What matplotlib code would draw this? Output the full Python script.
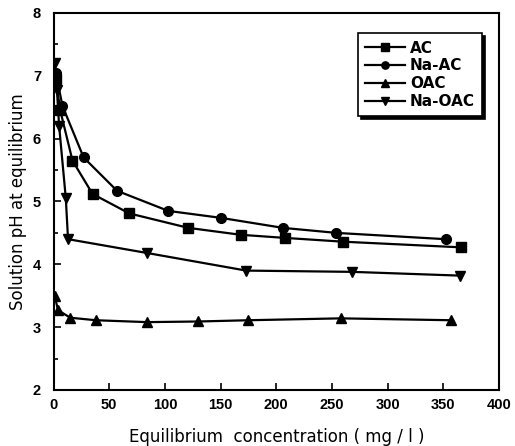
import matplotlib
matplotlib.use("Agg")
import matplotlib.pyplot as plt
from matplotlib.ticker import MultipleLocator

plt.rcParams['font.family'] = ['Liberation Sans', 'DejaVu Sans']

# Data
ac_x = [2, 6, 17, 35, 68, 121, 168, 208, 260, 366]
ac_y = [6.95, 6.45, 5.65, 5.12, 4.81, 4.58, 4.47, 4.42, 4.36, 4.27]

naac_x = [2, 8, 27, 57, 103, 150, 206, 254, 352]
naac_y = [7.05, 6.52, 5.70, 5.17, 4.85, 4.74, 4.58, 4.50, 4.40]

oac_x = [1, 4, 15, 38, 84, 130, 175, 258, 357]
oac_y = [3.50, 3.27, 3.15, 3.11, 3.08, 3.09, 3.11, 3.14, 3.11]

naoac_x = [1, 3, 5, 11, 13, 84, 173, 268, 365]
naoac_y = [7.2, 6.78, 6.2, 5.05, 4.40, 4.18, 3.90, 3.88, 3.82]

labels = ["AC", "Na-AC", "OAC", "Na-OAC"]
x_label = "Equilibrium  concentration ( mg / l )"
y_label = "Solution pH at equilibrium"

fig = plt.figure(figsize=(5.15, 4.46), dpi=100)
ax = fig.add_axes([0.104, 0.1256, 0.865, 0.8453])

series = [(ac_x, ac_y, 's'), (naac_x, naac_y, 'o'), (oac_x, oac_y, '^'), (naoac_x, naoac_y, 'v')]
for (xs, ys, m), lab in zip(series, labels):
    ax.plot(xs, ys, color='black', lw=1.6, marker=m, ms=7, mfc='black', mec='black', label=lab)

ax.set_xlim(0, 400)
ax.set_ylim(2, 8)
ax.xaxis.set_major_locator(MultipleLocator(50))
ax.yaxis.set_major_locator(MultipleLocator(1))
ax.yaxis.set_minor_locator(MultipleLocator(0.5))
ax.tick_params(axis='both', which='both', direction='in', top=False, right=False, width=1.2)
ax.tick_params(axis='both', which='major', length=5, labelsize=10.5)
ax.tick_params(axis='x', which='major', pad=6)
ax.tick_params(axis='y', which='major', pad=9)
ax.tick_params(axis='y', which='minor', length=3)
for t in ax.get_xticklabels() + ax.get_yticklabels():
    t.set_fontweight('bold')
for s in ax.spines.values():
    s.set_linewidth(1.5)

ax.set_xlabel(x_label, fontsize=12, family='DejaVu Sans', labelpad=11)
ax.set_ylabel(y_label, fontsize=12, family='DejaVu Sans', labelpad=4)

leg = ax.legend(loc='upper left', bbox_to_anchor=(0.683, 0.947), borderaxespad=0,
                frameon=True, fancybox=False, shadow={'color': 'black', 'alpha': 1},
                edgecolor='black', handlelength=2.6, labelspacing=0.18, handletextpad=0.3,
                borderpad=0.5,
                prop={'weight': 'bold', 'size': 11, 'family': 'DejaVu Sans'}, markerscale=0.75)
leg.get_frame().set_linewidth(1.2)

fig.savefig("out.png", dpi=100)
